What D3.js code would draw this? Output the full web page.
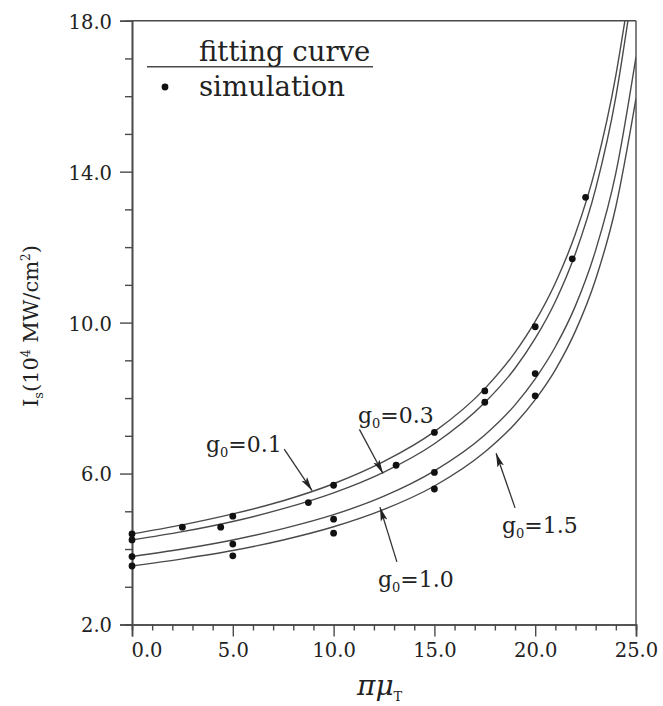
<!DOCTYPE html>
<html>
<head>
<meta charset="utf-8">
<script src="https://cdn.jsdelivr.net/npm/d3@7"></script>
<style>
  html, body { margin: 0; padding: 0; background: #fff; }
  svg text { font-family: "DejaVu Serif", "Liberation Serif", serif; fill: #222; }
</style>
</head>
<body>
<div id="chart"></div>
<script>
/* Is vs pi*mu_T — fitting curves + simulation points for four g0 values */

const xTicks = [0, 5, 10, 15, 20, 25];
const yTicks = [2, 6, 10, 14, 18];
const xTickLabels = ["0.0", "5.0", "10.0", "15.0", "20.0", "25.0"];
const yTickLabels = ["2.0", "6.0", "10.0", "14.0", "18.0"];

// fitting curves
const fitG01 = [[0,4.40],[2.5,4.64],[5,4.93],[7.5,5.28],[10,5.73],[12.5,6.32],[15,7.11],[17.5,8.25],[19,9.21],[20,10.03],[21,11.05],[22,12.36],[23,14.10],[24,16.55],[24.45,18.0]];
const fitG03 = [[0,4.24],[2.5,4.46],[5,4.73],[7.5,5.07],[10,5.49],[12.5,6.04],[15,6.79],[17.5,7.88],[19,8.79],[20,9.58],[21,10.56],[22,11.84],[23,13.55],[24,15.98],[24.6,18.0]];
const fitG10 = [[0,3.80],[2.5,4.00],[5,4.24],[7.5,4.54],[10,4.91],[12.5,5.40],[15,6.07],[17.5,7.02],[19,7.82],[20,8.51],[21,9.36],[22,10.45],[23,11.92],[24,13.96],[25,17.04]];
const fitG15 = [[0,3.55],[2.5,3.74],[5,3.96],[7.5,4.24],[10,4.59],[12.5,5.05],[15,5.67],[17.5,6.57],[19,7.32],[20,7.96],[21,8.75],[22,9.78],[23,11.15],[24,13.07],[25,15.94]];

// simulation points
const simG01 = [[0,4.40],[2.5,4.58],[5,4.87],[10,5.69],[15,7.09],[17.5,8.19],[20,9.89],[22.5,13.32]];
const simG03 = [[0,4.24],[4.4,4.58],[8.75,5.23],[13.1,6.22],[17.5,7.89],[21.84,11.69]];
const simG10 = [[0,3.80],[5,4.13],[10,4.79],[15,6.03],[20,8.65]];
const simG15 = [[0,3.55],[5,3.82],[10,4.42],[15,5.59],[20,8.06]];

// curve annotations: value, label position, arrow from -> to (data units)
const notes = [
  { g: "0.1", at: [3.67, 6.57], from: [7.55, 6.65], to: [8.93, 5.55] },
  { g: "0.3", at: [11.21, 7.34], from: [11.28, 7.17], to: [12.45, 6.0] },
  { g: "1.0", at: [12.2, 2.99], from: [13.14, 3.66], to: [12.3, 5.11] },
  { g: "1.5", at: [18.35, 4.42], from: [19.0, 5.09], to: [18.06, 6.54] }
];

const W = 663, H = 706;
const m = { l: 132, r: 27, t: 20.7, b: 81.5 };

const svg = d3.select("#chart").append("svg")
  .attr("width", W).attr("height", H).attr("viewBox", `0 0 ${W} ${H}`);

const x = d3.scaleLinear().domain([0, 25]).range([m.l, W - m.r]);
const y = d3.scaleLinear().domain([2, 18]).range([H - m.b, m.t]);

const ink = "#4a4a4a";

svg.append("defs").append("clipPath").attr("id", "plot")
  .append("rect").attr("x", x(0)).attr("y", y(18))
  .attr("width", x(25) - x(0)).attr("height", y(2) - y(18));

svg.select("defs").append("marker")
  .attr("id", "arr").attr("viewBox", "0 0 14 8")
  .attr("refX", 14).attr("refY", 4)
  .attr("markerWidth", 14).attr("markerHeight", 8)
  .attr("markerUnits", "userSpaceOnUse").attr("orient", "auto")
  .append("path").attr("d", "M0,0.6 L14,4 L0,7.4 L3,4 Z").attr("fill", "#222");

// frame: top and right
svg.append("line").attr("x1", x(0)).attr("x2", x(25)).attr("y1", y(18)).attr("y2", y(18))
  .attr("stroke", ink).attr("stroke-width", 1.4);
svg.append("line").attr("x1", x(25)).attr("x2", x(25)).attr("y1", y(18)).attr("y2", y(2))
  .attr("stroke", ink).attr("stroke-width", 1.4);

// axes
const xAxis = svg.append("g").attr("transform", `translate(0,${y(2)})`)
  .call(d3.axisBottom(x).tickValues(xTicks).tickSize(12).tickFormat((d, i) => xTickLabels[i]));
svg.append("g").attr("transform", `translate(0,${y(2)})`)
  .call(d3.axisBottom(x).tickValues(d3.range(0, 26).filter(v => v % 5)).tickSize(6).tickFormat(""));
const yAxis = svg.append("g").attr("transform", `translate(${x(0)},0)`)
  .call(d3.axisLeft(y).tickValues(yTicks).tickSize(12).tickFormat((d, i) => yTickLabels[i]));
svg.append("g").attr("transform", `translate(${x(0)},0)`)
  .call(d3.axisLeft(y).tickValues(d3.range(2, 19).filter(v => v % 4 !== 2)).tickSize(7).tickFormat(""));

svg.selectAll(".domain").attr("stroke", ink).attr("stroke-width", 1.6);
svg.selectAll(".tick line").attr("stroke", ink).attr("stroke-width", 1.4);
svg.selectAll(".tick text").style("font-size", "19.5px").attr("fill", "#222")
  .style("font-family", '"DejaVu Serif", serif');
xAxis.selectAll(".tick text").attr("y", 19);
xAxis.selectAll(".tick text").filter(d => d === 0).attr("text-anchor", "start").attr("x", -1);
yAxis.selectAll(".tick text").attr("x", -20).attr("dy", "0.38em");

// fitting curves
const line = d3.line().x(d => x(d[0])).y(d => y(d[1])).curve(d3.curveMonotoneX);
const plot = svg.append("g").attr("clip-path", "url(#plot)");
[fitG01, fitG03, fitG10, fitG15].forEach(s => {
  plot.append("path").attr("d", line(s)).attr("fill", "none")
    .attr("stroke", ink).attr("stroke-width", 1.4);
});

// simulation points
[simG01, simG03, simG10, simG15].forEach(s => {
  svg.append("g").selectAll("circle").data(s).join("circle")
    .attr("cx", d => x(d[0])).attr("cy", d => y(d[1])).attr("r", 3.4).attr("fill", "#111");
});

// g0 labels + arrows
notes.forEach(n => {
  const t = svg.append("text").attr("x", x(n.at[0])).attr("y", y(n.at[1]))
    .style("font-size", "22px");
  t.append("tspan").text("g");
  t.append("tspan").attr("dy", 5).style("font-size", "13px").text("0");
  t.append("tspan").attr("dy", -5).text("=" + n.g);
  svg.append("line")
    .attr("x1", x(n.from[0])).attr("y1", y(n.from[1]))
    .attr("x2", x(n.to[0])).attr("y2", y(n.to[1]))
    .attr("stroke", "#333").attr("stroke-width", 1.3).attr("marker-end", "url(#arr)");
});

// legend
svg.append("line").attr("x1", 147).attr("x2", 373).attr("y1", 66.7).attr("y2", 66.7)
  .attr("stroke", ink).attr("stroke-width", 1.4);
svg.append("text").attr("x", 199).attr("y", 61).style("font-size", "27.5px").text("fitting curve");
svg.append("circle").attr("cx", 165).attr("cy", 87).attr("r", 3.4).attr("fill", "#111");
svg.append("text").attr("x", 199).attr("y", 96).style("font-size", "27.5px").text("simulation");

// axis titles
const xt = svg.append("text").attr("x", 357).attr("y", 695)
  .style("font-size", "28px").style("font-style", "italic");
xt.append("tspan").text("πμ");
xt.append("tspan").attr("dy", 6).style("font-size", "13px").style("font-style", "normal").text("T");

const yt = svg.append("text")
  .attr("transform", `translate(38,${326})rotate(-90)`)
  .attr("text-anchor", "middle").style("font-size", "21px");
yt.append("tspan").text("I");
yt.append("tspan").attr("dy", 5).style("font-size", "13px").text("s");
yt.append("tspan").attr("dy", -5).text("(10");
yt.append("tspan").attr("dy", -8).style("font-size", "12px").text("4");
yt.append("tspan").attr("dy", 8).text(" MW/cm");
yt.append("tspan").attr("dy", -8).style("font-size", "12px").text("2");
yt.append("tspan").attr("dy", 8).text(")");
</script>
</body>
</html>
